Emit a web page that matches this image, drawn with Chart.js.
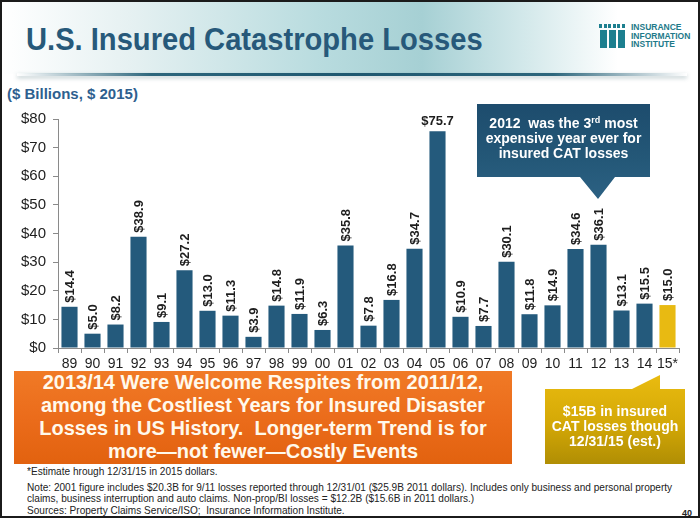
<!DOCTYPE html>
<html>
<head>
<meta charset="utf-8">
<script src="https://cdn.jsdelivr.net/npm/chart.js@4"></script>
<style>
  html, body { margin: 0; padding: 0; background: #fff; }
  #page {
    position: relative; width: 700px; height: 518px; overflow: hidden;
    box-sizing: border-box; border: 2px solid #1b1b1b;
    font-family: Arial, "Liberation Sans", sans-serif;
  }
  .abs { position: absolute; }
  #header {
    left: 0; top: 0; width: 700px; height: 72px;
    background: linear-gradient(to right, #ffffff 0%, #e6f1f2 18%, #b9dcdf 45%, #a6d0d4 60%, #d4e9eb 75%, #ffffff 88%);
  }
  #rule {
    left: 15px; top: 71px; width: 670px; height: 3px;
    background: linear-gradient(to right, rgba(40,98,122,0) 0%, #2d667c 20%, #1f5870 50%, #2d667c 80%, rgba(40,98,122,0) 100%);
    box-shadow: 0 2px 4px rgba(60,100,110,0.35);
  }
  #title {
    left: 24px; top: 20px; font-size: 31px; font-weight: bold; color: #27597a;
    white-space: nowrap; transform: scaleX(0.94); transform-origin: left top;
  }
  #subtitle {
    left: 5px; top: 83px; font-size: 15px; font-weight: bold; color: #2e5f8f; white-space: nowrap;
  }
  .pillar { position: absolute; background: #1c7f8f; }
  #logoText {
    left: 629px; top: 21px; font-size: 8.5px; line-height: 8.5px; font-weight: bold; color: #1e7a8a;
  }
  #callout {
    left: 475px; top: 102px; width: 173px; height: 95px;
    background: linear-gradient(to bottom, #1d4c6d 0%, #245878 60%, #2c6183 100%);
    clip-path: polygon(0 0, 173px 0, 173px 73px, 138px 73px, 121px 95px, 103px 73px, 0 73px);
  }
  #calloutText {
    left: 475px; top: 114px; width: 173px; text-align: center; color: #fff;
    font-size: 14px; font-weight: bold; line-height: 15px;
  }
  #calloutText sup { font-size: 9px; line-height: 0; vertical-align: 5px; }
  #banner {
    left: 12px; top: 369px; width: 498px; height: 93px;
    background: linear-gradient(to bottom, #f07a26 0%, #eb6c1b 50%, #e2620f 100%);
    color: #fff9ec; text-align: center; font-size: 20px; font-weight: bold; line-height: 23px;
  }
  #yellow {
    left: 543px; top: 373px; width: 140px; height: 89px;
    background: linear-gradient(to bottom, #e9bb10 0%, #d4a806 55%, #b08e04 100%);
    clip-path: polygon(0 14px, 87px 14px, 115px 0, 115px 14px, 140px 14px, 140px 89px, 0 89px);
  }
  #yellowText {
    left: 543px; top: 402px; width: 140px; text-align: center; color: #fff;
    font-size: 14px; font-weight: bold; line-height: 15px;
  }
  .note {
    position: absolute; left: 25px; font-size: 10.5px; color: #222; white-space: nowrap; line-height: 11px;
    transform: scaleX(0.96); transform-origin: left top;
  }
  #pageNo { right: 6px; top: 506px; font-size: 9px; font-weight: bold; color: #222; }
  #chart { position: absolute; left: 0; top: 100px; }
</style>
</head>
<body>
<div id="page">
  <div id="header" class="abs"></div>
  <div id="rule" class="abs"></div>
  <div id="title" class="abs">U.S. Insured Catastrophe Losses</div>
  <div class="pillar" style="left:597px;top:22px;width:3px;height:4px;"></div>
  <div class="pillar" style="left:602px;top:22px;width:3px;height:4px;"></div>
  <div class="pillar" style="left:606px;top:22px;width:3px;height:4px;"></div>
  <div class="pillar" style="left:611px;top:22px;width:3px;height:4px;"></div>
  <div class="pillar" style="left:615px;top:22px;width:3px;height:4px;"></div>
  <div class="pillar" style="left:620px;top:22px;width:3px;height:4px;"></div>
  <div class="pillar" style="left:598px;top:28px;width:7px;height:18px;"></div>
  <div class="pillar" style="left:607px;top:28px;width:7px;height:18px;"></div>
  <div class="pillar" style="left:616px;top:28px;width:7px;height:18px;"></div>
  <div id="logoText" class="abs">INSURANCE<br>INFORMATION<br>INSTITUTE</div>
  <div id="subtitle" class="abs">($ Billions, $ 2015)</div>

  <canvas id="chart" width="700" height="274"></canvas>

  <div id="callout" class="abs"></div>
  <div id="calloutText" class="abs">2012&nbsp; was the 3<sup>rd</sup> most<br>expensive year ever for<br>insured CAT losses</div>

  <div id="banner" class="abs">2013/14 Were Welcome Respites from 2011/12,<br>among the Costliest Years for Insured Disaster<br>Losses in US History.&nbsp; Longer-term Trend is for<br>more—not fewer—Costly Events</div>

  <div id="yellow" class="abs"></div>
  <div id="yellowText" class="abs">$15B in insured<br>CAT losses though<br>12/31/15 (est.)</div>

  <div class="note" style="top:464px;">*Estimate hrough 12/31/15 in 2015 dollars.</div>
  <div class="note" style="top:480px;">Note: 2001 figure includes $20.3B for 9/11 losses reported through 12/31/01 ($25.9B 2011 dollars). Includes only business and personal property</div>
  <div class="note" style="top:491px;">claims, business interruption and auto claims. Non-prop/BI losses = $12.2B ($15.6B in 2011 dollars.)</div>
  <div class="note" style="top:503px;">Sources: Property Claims Service/ISO;&nbsp; Insurance Information Institute.</div>
  <div id="pageNo" class="abs">40</div>
</div>

<script>
const years = ['89', '90', '91', '92', '93', '94', '95', '96', '97', '98', '99', '00', '01', '02',
  '03', '04', '05', '06', '07', '08', '09', '10', '11', '12', '13', '14', '15*'];
const losses = [14.4, 5.0, 8.2, 38.9, 9.1, 27.2, 13.0, 11.3, 3.9, 14.8, 11.9, 6.3, 35.8, 7.8,
  16.8, 34.7, 75.7, 10.9, 7.7, 30.1, 11.8, 14.9, 34.6, 36.1, 13.1, 15.5, 15.0];
const yTicks = [0, 10, 20, 30, 40, 50, 60, 70, 80];

const barBlue = '#245a7c';
const estYellow = '#e8ba12';
const barColors = losses.map((v, i) => i === losses.length - 1 ? estYellow : barBlue);

// value labels above each bar, rotated except the tall 2005 one
const valueLabels = {
  id: 'valueLabels',
  afterDatasetsDraw(chart) {
    const ctx = chart.ctx;
    const meta = chart.getDatasetMeta(0);
    ctx.save();
    ctx.fillStyle = '#1e1e1e';
    ctx.font = 'bold 13px Arial, "Liberation Sans", sans-serif';
    meta.data.forEach((bar, i) => {
      const txt = '$' + losses[i].toFixed(1);
      if (years[i] === '05') {
        ctx.textAlign = 'center';
        ctx.textBaseline = 'bottom';
        ctx.fillText(txt, bar.x, bar.y - 3);
        return;
      }
      ctx.save();
      ctx.translate(bar.x + 1, bar.y - 4);
      ctx.rotate(-Math.PI / 2);
      ctx.textAlign = 'left';
      ctx.textBaseline = 'middle';
      ctx.fillText(txt, 0, 0);
      ctx.restore();
    });
    ctx.restore();
  }
};

new Chart(document.getElementById('chart'), {
  type: 'bar',
  data: {
    labels: years,
    datasets: [{
      data: losses,
      backgroundColor: barColors,
      barPercentage: 0.7,
      categoryPercentage: 1.0
    }]
  },
  options: {
    responsive: false,
    animation: false,
    layout: { padding: { top: 17, right: 23, bottom: 0, left: 0 } },
    plugins: { legend: { display: false }, tooltip: { enabled: false } },
    scales: {
      x: {
        grid: { offset: true, drawOnChartArea: false, drawTicks: true, tickLength: 5, color: '#8a8a8a' },
        border: { color: '#8a8a8a' },
        ticks: { color: '#1e1e1e', font: { size: 14, family: 'Arial, "Liberation Sans", sans-serif' }, padding: 3, maxRotation: 0, autoSkip: false },
        afterFit(scale) { scale.height = 28; }
      },
      y: {
        min: 0,
        max: 80,
        afterBuildTicks(scale) { scale.ticks = yTicks.map(v => ({ value: v })); },
        grid: { drawOnChartArea: false, drawTicks: true, tickLength: 5, color: '#8a8a8a' },
        border: { color: '#8a8a8a' },
        ticks: {
          color: '#1e1e1e',
          font: { size: 15, family: 'Arial, "Liberation Sans", sans-serif' },
          padding: 7,
          callback: v => '$' + v
        },
        afterFit(scale) { scale.width = 56; }
      }
    }
  },
  plugins: [valueLabels]
});
</script>
</body>
</html>
